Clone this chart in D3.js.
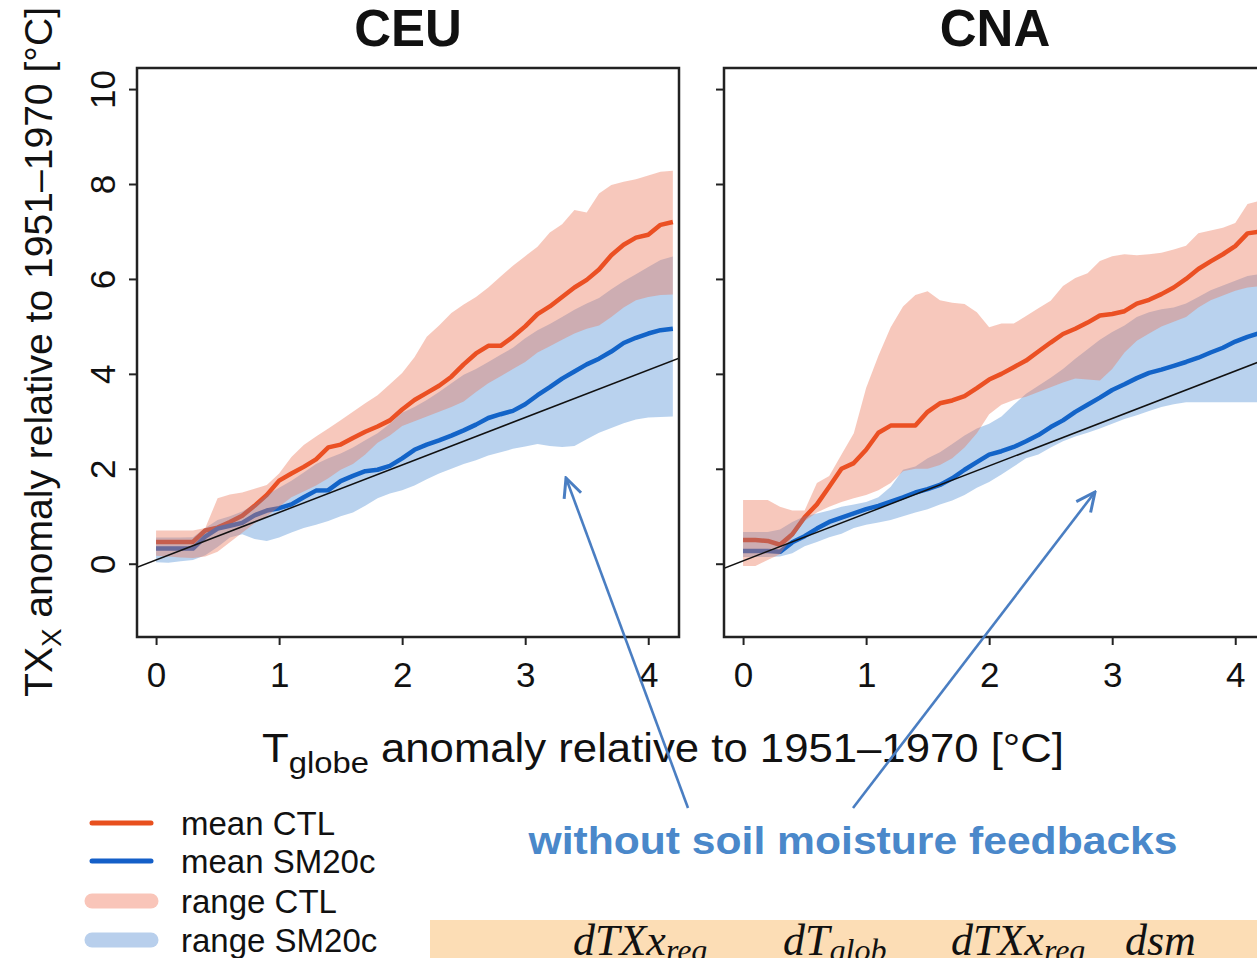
<!DOCTYPE html>
<html><head><meta charset="utf-8">
<script src="https://cdn.jsdelivr.net/npm/d3@7"></script>
<style>
body{margin:0;background:#fff}
svg{display:block}
text{font-family:"Liberation Sans",Arial,Helvetica,sans-serif}
text.math{font-family:"Liberation Serif","Times New Roman",serif;font-style:italic}
</style>
</head><body>
<svg id="c" width="1257" height="958"></svg>
<script>
// ---------------- DATA ----------------
const tglob = [0,0.1,0.2,0.3,0.4,0.5,0.6,0.7,0.8,0.9,1.0,1.1,1.2,1.3,1.4,1.5,1.6,1.7,1.8,1.9,2.0,2.1,2.2,2.3,2.4,2.5,2.6,2.7,2.8,2.9,3.0,3.1,3.2,3.3,3.4,3.5,3.6,3.7,3.8,3.9,4.0,4.1,4.2];

const ceuCtlMean = [0.46,0.46,0.46,0.46,0.70,0.76,0.88,1.01,1.22,1.45, 1.75,1.90,2.04,2.20,2.45,2.51,2.65,2.78,2.89,3.02, 3.25,3.45,3.60,3.75,3.94,4.20,4.43,4.59,4.59,4.78, 5.00,5.26,5.42,5.62,5.82,5.98,6.20,6.50,6.72,6.87, 6.93,7.14,7.20];
const ceuSmMean  = [0.32,0.32,0.32,0.32,0.57,0.74,0.80,0.86,1.02,1.12, 1.17,1.25,1.40,1.54,1.55,1.74,1.85,1.95,1.98,2.06, 2.22,2.40,2.51,2.60,2.70,2.81,2.93,3.07,3.15,3.22, 3.36,3.55,3.72,3.90,4.05,4.20,4.32,4.47,4.65,4.76, 4.85,4.92,4.95];
const ceuCtlHi   = [0.70,0.70,0.70,0.70,0.75,1.38,1.46,1.50,1.58,1.66, 1.90,2.25,2.50,2.68,2.85,3.02,3.20,3.38,3.55,3.78, 4.02,4.35,4.78,5.02,5.28,5.46,5.62,5.82,6.05,6.28, 6.48,6.68,6.98,7.15,7.45,7.40,7.80,7.98,8.05,8.10, 8.18,8.26,8.28];
const ceuCtlLo   = [0.17,0.15,0.13,0.12,0.15,0.25,0.45,0.65,0.85,1.00, 1.20,1.40,1.52,1.65,1.80,1.98,2.10,2.30,2.55,2.70, 2.90,3.00,3.10,3.20,3.30,3.42,3.62,3.80,3.95,4.10, 4.25,4.45,4.58,4.72,4.85,4.95,5.02,5.20,5.40,5.55, 5.62,5.66,5.67];
const ceuSmHi    = [0.55,0.55,0.55,0.56,0.75,0.92,1.00,1.10,1.25,1.45, 1.60,1.75,1.92,2.10,2.22,2.32,2.45,2.60,2.75,2.95, 3.18,3.30,3.45,3.62,3.80,3.98,4.10,4.25,4.40,4.55, 4.75,4.92,5.05,5.20,5.35,5.48,5.60,5.78,5.95,6.10, 6.25,6.40,6.47];
const ceuSmLo    = [0.03,0.02,0.05,0.08,0.18,0.35,0.55,0.62,0.52,0.48, 0.55,0.66,0.75,0.82,0.90,1.00,1.08,1.22,1.38,1.48, 1.55,1.65,1.78,1.90,2.00,2.10,2.18,2.28,2.35,2.42, 2.47,2.52,2.48,2.46,2.48,2.62,2.76,2.86,2.96,3.04, 3.08,3.09,3.10];

const cnaCtlMean = [0.50,0.50,0.48,0.40,0.62,0.98,1.25,1.62,2.00,2.12, 2.40,2.76,2.91,2.91,2.91,3.20,3.38,3.44,3.53,3.70, 3.88,4.00,4.14,4.28,4.47,4.66,4.84,4.95,5.08,5.23, 5.26,5.32,5.48,5.56,5.68,5.82,6.00,6.21,6.37,6.52, 6.69,6.96,7.00];
const cnaSmMean  = [0.27,0.27,0.27,0.25,0.45,0.58,0.74,0.88,0.97,1.06, 1.15,1.22,1.31,1.40,1.50,1.57,1.66,1.80,1.98,2.14, 2.30,2.37,2.46,2.58,2.71,2.88,3.02,3.20,3.35,3.50, 3.66,3.78,3.91,4.02,4.09,4.17,4.25,4.34,4.45,4.55, 4.68,4.78,4.86];
const cnaCtlHi   = [1.34,1.34,1.34,1.20,1.12,1.12,1.70,1.85,2.30,2.75, 3.70,4.38,4.98,5.42,5.66,5.74,5.55,5.50,5.47,5.30, 4.98,5.06,5.06,5.22,5.38,5.54,5.85,6.02,6.12,6.38, 6.48,6.52,6.50,6.52,6.55,6.62,6.70,6.96,7.02,7.08, 7.18,7.58,7.65];
const cnaCtlLo   = [-0.05,-0.05,0.08,0.20,0.55,0.90,1.08,1.20,1.30,1.38, 1.45,1.55,1.70,1.95,2.00,2.00,2.08,2.22,2.45,2.75, 3.15,3.35,3.45,3.52,3.62,3.72,3.82,3.90,3.88,3.86, 4.10,4.45,4.70,4.85,5.00,5.10,5.20,5.40,5.55,5.65, 5.75,5.82,5.85];
const cnaSmHi    = [0.67,0.67,0.67,0.72,0.88,1.00,1.06,1.12,1.20,1.25, 1.30,1.40,1.62,1.98,2.05,2.22,2.35,2.52,2.70,2.85, 2.95,3.10,3.35,3.58,3.75,3.92,4.10,4.32,4.52,4.72, 4.88,5.02,5.20,5.30,5.36,5.40,5.48,5.62,5.76,5.86, 5.96,6.06,6.10];
const cnaSmLo    = [0.14,0.14,0.14,0.15,0.22,0.37,0.46,0.56,0.63,0.75, 0.82,0.87,0.92,1.00,1.08,1.15,1.25,1.33,1.45,1.60, 1.72,1.88,2.05,2.22,2.30,2.45,2.58,2.68,2.76,2.85, 2.95,3.05,3.13,3.22,3.30,3.36,3.40,3.40,3.40,3.40, 3.40,3.40,3.40];

const panelNames = ["CEU","CNA"];
const refIntercepts = [0.08, 0.06];   // 1:1 reference line
const refSlopes = [1.0, 1.0];
const xTicks = [0,1,2,3,4];
const yTicks = [0,2,4,6,8,10];
const legendLabels = ["mean CTL","mean SM20c","range CTL","range SM20c"];
const annotationText = "without soil moisture feedbacks";
const formulaTerms = [["dTXx","reg"],["dT","glob"],["dTXx","reg"],["dsm",""]];

// ---------------- LAYOUT / STYLE ----------------
const svg = d3.select("#c");
const panelLefts = [137, 724], pTop = 68, pW = 542, pH = 569;
const xDomain = [-0.155, 4.25], yDomain = [-1.544, 10.444];
const col = {
  ctlLine: "#EB3700", smLine: "#0156C5",
  ctlBand: "rgba(235,117,88,0.40)", smBand: "rgba(55,126,206,0.35)",
  legCtl: "#E8501E", legSm: "#145FC8", legCtlBand: "#F9C5B9", legSmBand: "#B8CFEC",
  arrow: "#4A7EC2", annot: "#4A88CA", box: "#FCDDB5"
};
const panelData = [
  {ctlMean: ceuCtlMean, smMean: ceuSmMean, ctlLo: ceuCtlLo, ctlHi: ceuCtlHi, smLo: ceuSmLo, smHi: ceuSmHi},
  {ctlMean: cnaCtlMean, smMean: cnaSmMean, ctlLo: cnaCtlLo, ctlHi: cnaCtlHi, smLo: cnaSmLo, smHi: cnaSmHi}
];
const defs = svg.append("defs");

panelNames.forEach((name, i) => {
  const L = panelLefts[i];
  const x = d3.scaleLinear().domain(xDomain).range([L, L + pW]);
  const y = d3.scaleLinear().domain(yDomain).range([pTop + pH, pTop]);
  const d = panelData[i];
  defs.append("clipPath").attr("id", "clip" + i)
    .append("rect").attr("x", L).attr("y", pTop).attr("width", pW).attr("height", pH);
  const g = svg.append("g");
  const inner = g.append("g").attr("clip-path", `url(#clip${i})`);

  const line = d3.line().x((v, k) => x(tglob[k])).y(v => y(v));
  const area = (lo, hi) => d3.area().x((v, k) => x(tglob[k])).y0((v, k) => y(lo[k])).y1((v, k) => y(hi[k]))(lo);

  inner.append("path").attr("d", line(d.ctlMean)).attr("fill", "none")
    .attr("stroke", col.ctlLine).attr("stroke-width", 4.5).attr("stroke-linejoin", "round");
  inner.append("path").attr("d", line(d.smMean)).attr("fill", "none")
    .attr("stroke", col.smLine).attr("stroke-width", 4.5).attr("stroke-linejoin", "round");
  inner.append("path").attr("d", area(d.smLo, d.smHi)).attr("fill", col.smBand);
  inner.append("path").attr("d", area(d.ctlLo, d.ctlHi)).attr("fill", col.ctlBand);

  const refLine = d3.line().x(v => x(v)).y(v => y(refIntercepts[i] + refSlopes[i] * v));
  inner.append("path").attr("d", refLine(xDomain)).attr("fill", "none")
    .attr("stroke", "#111").attr("stroke-width", 1.5);

  g.append("rect").attr("x", L).attr("y", pTop).attr("width", pW).attr("height", pH)
    .attr("fill", "none").attr("stroke", "#222").attr("stroke-width", 2.5);

  // x axis
  const gx = g.append("g").attr("transform", `translate(0,${pTop + pH})`)
    .call(d3.axisBottom(x).tickValues(xTicks).tickSize(8).tickSizeOuter(0).tickPadding(17).tickFormat(d3.format("d")));
  gx.attr("font-family", null).attr("font-size", null);
  gx.select(".domain").remove();
  gx.selectAll("line").attr("stroke", "#222").attr("stroke-width", 2);
  gx.selectAll("text").attr("font-size", 35).attr("fill", "#111");

  // y axis
  const gy = g.append("g").attr("transform", `translate(${L},0)`)
    .call(d3.axisLeft(y).tickValues(yTicks).tickSize(8).tickSizeOuter(0).tickFormat(i === 0 ? d3.format("d") : () => ""));
  gy.attr("font-family", null).attr("font-size", null);
  gy.select(".domain").remove();
  gy.selectAll("line").attr("stroke", "#222").attr("stroke-width", 2);
  gy.selectAll("text").attr("x", null).attr("dy", null)
    .attr("transform", "translate(-22,0) rotate(-90)")
    .attr("text-anchor", "middle").attr("font-size", 35).attr("fill", "#111");

  // title
  svg.append("text").attr("x", L + pW / 2).attr("y", 46).attr("text-anchor", "middle")
    .attr("font-size", 51).attr("font-weight", "bold").attr("fill", "#111").text(name);
});

// y axis title
const yt = svg.append("text").attr("transform", "translate(52,352) rotate(-90)")
  .attr("text-anchor", "middle").attr("font-size", 38).attr("fill", "#111")
  .attr("textLength", 690).attr("lengthAdjust", "spacingAndGlyphs");
yt.append("tspan").text("TX");
yt.append("tspan").attr("font-size", 27).attr("dy", 9).text("X");
yt.append("tspan").attr("dy", -9).text(" anomaly relative to 1951\u20131970 [\u00B0C]");

// x axis title
const xt = svg.append("text").attr("x", 663).attr("y", 762).attr("text-anchor", "middle")
  .attr("font-size", 40).attr("fill", "#111")
  .attr("textLength", 802).attr("lengthAdjust", "spacingAndGlyphs");
xt.append("tspan").text("T");
xt.append("tspan").attr("font-size", 30).attr("dy", 11).text("globe");
xt.append("tspan").attr("dy", -11).text(" anomaly relative to 1951\u20131970 [\u00B0C]");

// legend
const legY = [823, 861, 901, 940];
const legStyles = [
  {c: col.legCtl, w: 5}, {c: col.legSm, w: 5}, {c: col.legCtlBand, w: 15}, {c: col.legSmBand, w: 15}
];
legendLabels.forEach((lab, k) => {
  svg.append("line").attr("x1", 92).attr("x2", 151).attr("y1", legY[k]).attr("y2", legY[k])
    .attr("stroke", legStyles[k].c).attr("stroke-width", legStyles[k].w).attr("stroke-linecap", "round");
  svg.append("text").attr("x", 181).attr("y", legY[k] + 12).attr("font-size", 33).attr("fill", "#111").text(lab);
});

// annotation
const arrowMarker = defs.append("marker").attr("id", "ah").attr("viewBox", "0 0 24 24")
  .attr("refX", 22).attr("refY", 12).attr("markerWidth", 24).attr("markerHeight", 24)
  .attr("markerUnits", "userSpaceOnUse").attr("orient", "auto");
arrowMarker.append("path").attr("d", "M3,3 L22,12 L3,21").attr("fill", "none")
  .attr("stroke", col.arrow).attr("stroke-width", 3);
const arrows = [[688, 808, 566, 478], [853, 808, 1095, 492]];
arrows.forEach(a => {
  svg.append("line").attr("x1", a[0]).attr("y1", a[1]).attr("x2", a[2]).attr("y2", a[3])
    .attr("stroke", col.arrow).attr("stroke-width", 2.6).attr("marker-end", "url(#ah)");
});
svg.append("text").attr("x", 853).attr("y", 854).attr("text-anchor", "middle")
  .attr("font-size", 39).attr("font-weight", "bold").attr("fill", col.annot)
  .attr("textLength", 649).attr("lengthAdjust", "spacingAndGlyphs").text(annotationText);

// formula box
svg.append("rect").attr("x", 430).attr("y", 920).attr("width", 827).attr("height", 38).attr("fill", col.box);
const termX = [573, 783, 951, 1125];
formulaTerms.forEach((t, k) => {
  const tx = svg.append("text").attr("class", "math").attr("x", termX[k]).attr("y", 955)
    .attr("font-size", 44).attr("fill", "#111");
  tx.append("tspan").text(t[0]);
  if (t[1]) tx.append("tspan").attr("font-size", 32).attr("dy", 6).text(t[1]);
});
</script>
</body></html>
